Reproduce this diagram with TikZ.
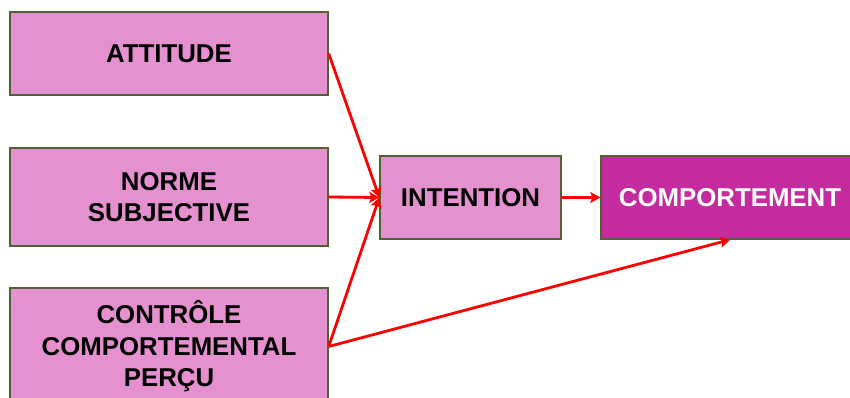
\documentclass[tikz,border=0pt]{standalone}
\usepackage{fontspec}
\setmainfont{Liberation Sans}
\usetikzlibrary{arrows.meta}
\definecolor{boxpink}{RGB}{229,145,208}
\definecolor{boxmag}{RGB}{196,43,158}
\definecolor{boxedge}{RGB}{80,98,50}
\tikzset{
  box/.style={draw=boxedge, line width=1.4pt, fill=boxpink, align=center,
    font=\fontsize{25.8}{31.5}\selectfont\bfseries, text=black, inner sep=0pt},
  boxdark/.style={box, fill=boxmag, text=white},
  arr/.style={draw=red, line width=2.8pt, -{Stealth[length=10pt,width=11pt,inset=2pt]}}
}
\begin{document}
\begin{tikzpicture}[x=1pt,y=-1pt]
\useasboundingbox (0,0) rectangle (850,398);
\clip (0,0) rectangle (850,398);
\node[box, minimum width=318pt, minimum height=83pt] (att) at (169,53.5) {ATTITUDE};
\node[box, minimum width=318pt, minimum height=98pt] (nor) at (169,197) {NORME\\SUBJECTIVE};
\node[box, minimum width=318pt, minimum height=117pt] (con) at (169,346.5) {CONTRÔLE\\COMPORTEMENTAL\\PERÇU};
\node[box, minimum width=181pt, minimum height=83pt] (int) at (470.5,197.5) {INTENTION};
\node[boxdark, minimum width=258pt, minimum height=83pt] (com) at (730,197.5) {COMPORTEMENT};
\draw[arr] (att.east) -- (int.west);
\draw[arr] (nor.east) -- (int.west);
\draw[arr] (con.east) -- (int.west);
\draw[arr] (int.east) -- (com.west);
\draw[arr] (con.east) -- (com.south);
\end{tikzpicture}
\end{document}
